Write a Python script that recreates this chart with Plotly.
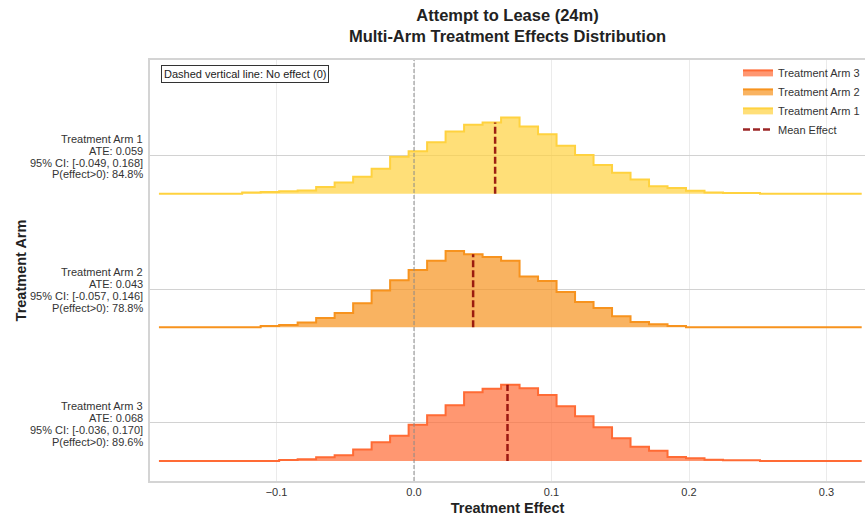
import numpy as np
import plotly.graph_objects as go

# Posterior summaries per treatment arm
ARMS = ["Treatment Arm 1", "Treatment Arm 2", "Treatment Arm 3"]
ATE = [0.059, 0.043, 0.068]
CI_LOW = [-0.049, -0.057, -0.036]
CI_HIGH = [0.168, 0.146, 0.170]
P_POSITIVE = [84.8, 78.8, 89.6]

# Common evaluation grid of the posterior histograms (treatment effect)
X_MIN, X_MAX, N_POINTS = -0.1855, 0.3256, 39
EFFECT_GRID = np.linspace(X_MIN, X_MAX, N_POINTS)

# Posterior density of the treatment effect on the grid, one list per arm
DENSITY_ARM1 = [0, 0, 0, 0, 0, 0.10, 0.16, 0.22, 0.31, 0.64, 1.08, 1.62, 2.38,
                3.55, 4.07, 4.93, 5.97, 6.60, 6.83, 7.31, 6.45, 5.69, 4.60, 3.72,
                2.76, 2.00, 1.36, 0.70, 0.54, 0.29, 0.12, 0.07, 0.07, 0, 0, 0,
                0, 0, 0]
DENSITY_ARM2 = [0, 0, 0, 0, 0, 0, 0.13, 0.23, 0.47, 0.92, 1.42, 2.38, 3.64,
                4.66, 5.68, 6.61, 7.56, 7.26, 6.97, 6.61, 5.05, 4.59, 3.50, 2.51,
                1.91, 1.09, 0.53, 0.30, 0.13, 0, 0, 0, 0, 0, 0, 0, 0, 0, 0]
DENSITY_ARM3 = [0, 0, 0, 0, 0, 0, 0, 0.10, 0.17, 0.37, 0.56, 1.12, 1.85,
                2.50, 3.58, 4.51, 5.50, 6.78, 7.14, 7.53, 7.18, 6.51, 5.40, 4.41,
                3.33, 2.24, 1.41, 1.02, 0.39, 0.27, 0.13, 0.07, 0.07, 0, 0, 0,
                0, 0, 0]
DENSITIES = [DENSITY_ARM1, DENSITY_ARM2, DENSITY_ARM3]

X_TICKS = [-0.1, 0.0, 0.1, 0.2, 0.3]

LINE_COLORS = ["#FFD23F", "#F7931E", "#FF6B35"]
FILL_COLORS = ["rgba(255,210,63,0.7)", "rgba(247,147,30,0.7)", "rgba(255,107,53,0.7)"]
MEAN_COLOR = "rgba(139,0,0,0.85)"
FONT = "Liberation Sans, Arial, Helvetica, sans-serif"

RIDGE_HEIGHT = 0.57          # height of each ridge after peak normalisation
n_arms = len(ARMS)
baselines = [n_arms - 1 - i for i in range(n_arms)]   # Arm 1 on top

fig = go.Figure()

# Ridges are added bottom-up so the legend lists Arm 3 first
for i in reversed(range(n_arms)):
    dens = np.asarray(DENSITIES[i], dtype=float)
    ridge = baselines[i] + dens / dens.max() * RIDGE_HEIGHT
    fig.add_trace(go.Scatter(
        x=EFFECT_GRID, y=np.full(N_POINTS, float(baselines[i])),
        mode="lines", line=dict(width=0, color=LINE_COLORS[i]),
        hoverinfo="skip", showlegend=False))
    fig.add_trace(go.Scatter(
        x=EFFECT_GRID, y=ridge, mode="lines", name=ARMS[i],
        line=dict(color=LINE_COLORS[i], width=2, shape="hvh"),
        fill="tonexty", fillcolor=FILL_COLORS[i]))

# Mean effect markers, drawn up to the ridge height at the ATE
for i in range(n_arms):
    dens = np.asarray(DENSITIES[i], dtype=float)
    k = int(np.argmin(np.abs(EFFECT_GRID - ATE[i])))
    top = baselines[i] + dens[k] / dens.max() * RIDGE_HEIGHT
    fig.add_trace(go.Scatter(
        x=[ATE[i], ATE[i]], y=[baselines[i], top], mode="lines",
        name="Mean Effect", showlegend=(i == 0),
        line=dict(color=MEAN_COLOR, width=2.5, dash="7px,3px")))

# No-effect reference line
fig.add_shape(type="line", xref="x", yref="paper", x0=0, x1=0, y0=0, y1=1,
              line=dict(color="#8c8c8c", width=1, dash="4px,2px"))

# Per-arm summary labels next to each ridge (four tightly spaced lines)
tick_vals = [b + RIDGE_HEIGHT / 2 for b in baselines]
line_shifts = [17, 5, -7, -18.7]
for i in range(n_arms):
    lines = [
        ARMS[i],
        f"ATE: {ATE[i]:.3f}",
        f"95% CI: [{CI_LOW[i]:.3f}, {CI_HIGH[i]:.3f}]",
        f"P(effect>0): {P_POSITIVE[i]:.1f}%",
    ]
    for text, shift in zip(lines, line_shifts):
        fig.add_annotation(
            xref="paper", yref="y", x=-0.007, y=tick_vals[i], yshift=shift,
            xanchor="right", yanchor="middle", text=text, showarrow=False,
            font=dict(family=FONT, size=11, color="#333"))

fig.add_annotation(
    xref="paper", yref="paper", x=0.015, y=0.988, xanchor="left", yanchor="top",
    text="Dashed vertical line: No effect (0)", showarrow=False,
    font=dict(family=FONT, size=11, color="#222"),
    bgcolor="white", bordercolor="#333", borderwidth=1, borderpad=2)

fig.update_layout(
    width=865, height=516,
    margin=dict(l=150, r=0, t=60, b=35),
    paper_bgcolor="white", plot_bgcolor="white",
    font=dict(family=FONT, size=11, color="#333"),
    title=dict(
        text="<b>Attempt to Lease (24m)</b><br><b>Multi-Arm Treatment Effects Distribution</b>",
        x=0.5, xref="paper", xanchor="center", y=0.96, yref="container", yanchor="top",
        font=dict(family=FONT, size=16.5, color="#222")),
    legend=dict(x=1, xanchor="right", y=1.005, yanchor="top", bgcolor="rgba(255,255,255,0)",
                traceorder="normal", tracegroupgap=0,
                font=dict(family=FONT, size=11, color="#333")),
    showlegend=True,
)

fig.update_xaxes(
    range=[-0.192, 0.328], tickvals=X_TICKS, tickformat=".1f",
    showgrid=True, gridcolor="#ebebeb", gridwidth=1, zeroline=False,
    showline=True, mirror=True, linecolor="#d4d4d4", linewidth=1.5,
    ticks="", tickfont=dict(size=11, color="#333"),
    title=dict(text="<b>Treatment Effect</b>", standoff=6,
               font=dict(family=FONT, size=14.5, color="#222")))

fig.update_yaxes(
    range=[-0.15, 3.0], tickvals=tick_vals, showticklabels=False,
    showgrid=True, gridcolor="#d2d2d2", gridwidth=1, zeroline=False,
    showline=True, linecolor="#d4d4d4", linewidth=1.5, ticks="",
    title=dict(text="<b>Treatment Arm</b>", standoff=118,
               font=dict(family=FONT, size=14.5, color="#222")))

fig.write_html("out.html")
